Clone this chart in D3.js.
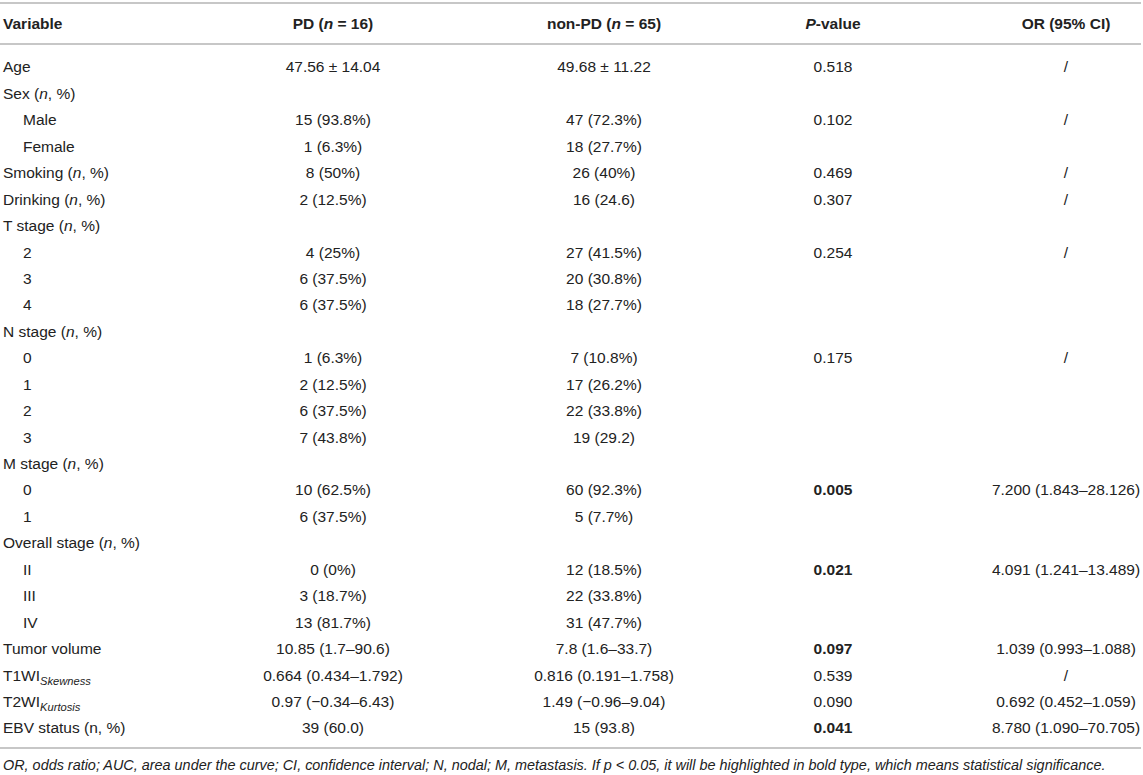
<!DOCTYPE html>
<html>
<head>
<meta charset="utf-8">
<script src="https://cdn.jsdelivr.net/npm/d3@7"></script>
<style>
  body { margin: 0; background: #fff; }
  svg text { font-family: "Liberation Sans", Arial, Helvetica, sans-serif; fill: #222; }
</style>
</head>
<body>
<svg id="chart" width="1143" height="775"></svg>
<script>
// columns of the table
var columns = ["pd", "nonpd", "p", "or"];
var headers = ["PD (*n* = 16)", "non-PD (*n* = 65)", "*P*-value", "OR (95% CI)"];

// row labels, "*x*" = italic, "_{x}" = italic subscript
var labels = ["Age", "Sex (*n*, %)", "Male", "Female", "Smoking (*n*, %)", "Drinking (*n*, %)",
  "T stage (*n*, %)", "2", "3", "4", "N stage (*n*, %)", "0", "1", "2", "3",
  "M stage (*n*, %)", "0", "1", "Overall stage (*n*, %)", "II", "III", "IV",
  "Tumor volume", "T1WI_{Skewness}", "T2WI_{Kurtosis}", "EBV status (n, %)"];
var indented = [0, 0, 1, 1, 0, 0, 0, 1, 1, 1, 0, 1, 1, 1, 1, 0, 1, 1, 0, 1, 1, 1, 0, 0, 0, 0];

var pdValues = ["47.56 ± 14.04", "", "15 (93.8%)", "1 (6.3%)", "8 (50%)", "2 (12.5%)",
  "", "4 (25%)", "6 (37.5%)", "6 (37.5%)", "", "1 (6.3%)", "2 (12.5%)", "6 (37.5%)", "7 (43.8%)",
  "", "10 (62.5%)", "6 (37.5%)", "", "0 (0%)", "3 (18.7%)", "13 (81.7%)",
  "10.85 (1.7–90.6)", "0.664 (0.434–1.792)", "0.97 (−0.34–6.43)", "39 (60.0)"];
var nonPdValues = ["49.68 ± 11.22", "", "47 (72.3%)", "18 (27.7%)", "26 (40%)", "16 (24.6)",
  "", "27 (41.5%)", "20 (30.8%)", "18 (27.7%)", "", "7 (10.8%)", "17 (26.2%)", "22 (33.8%)", "19 (29.2)",
  "", "60 (92.3%)", "5 (7.7%)", "", "12 (18.5%)", "22 (33.8%)", "31 (47.7%)",
  "7.8 (1.6–33.7)", "0.816 (0.191–1.758)", "1.49 (−0.96–9.04)", "15 (93.8)"];
var pValues = ["0.518", "", "0.102", "", "0.469", "0.307", "", "0.254", "", "", "", "0.175", "", "", "",
  "", "0.005", "", "", "0.021", "", "", "0.097", "0.539", "0.090", "0.041"];
var pBold = ["0.005", "0.021", "0.097", "0.041"];
var orValues = ["/", "", "/", "", "/", "/", "", "/", "", "", "", "/", "", "", "",
  "", "7.200 (1.843–28.126)", "", "", "4.091 (1.241–13.489)", "", "",
  "1.039 (0.993–1.088)", "/", "0.692 (0.452–1.059)", "8.780 (1.090–70.705)"];

var footnote = "OR, odds ratio; AUC, area under the curve; CI, confidence interval; N, nodal; M, metastasis. If p < 0.05, it will be highlighted in bold type, which means statistical significance.";

var W = 1143, fontSize = 15.5;
var svg = d3.select("#chart");

var x = d3.scaleOrdinal().domain(columns).range([333, 604, 833, 1066]);
var y = d3.scaleBand().domain(d3.range(labels.length)).range([53.8, 53.8 + labels.length * 26.44]);
var rowY = function(i) { return y(i) + y.bandwidth() / 2; };

// write a string with *italic* and _{sub} parts into a text element
function rich(sel, str) {
  var re = /(\*[^*]+\*|_\{[^}]+\})/g;
  str.split(re).forEach(function(part) {
    if (!part) return;
    if (part[0] === "*") {
      sel.append("tspan").attr("font-style", "italic").text(part.slice(1, -1));
    } else if (part[0] === "_") {
      sel.append("tspan").attr("font-style", "italic").attr("font-size", fontSize * 0.72)
        .attr("dy", 4).text(part.slice(2, -1));
    } else {
      sel.append("tspan").text(part);
    }
  });
}

// rules
[3, 44, 748].forEach(function(ly) {
  svg.append("line").attr("x1", 0).attr("x2", W - 2).attr("y1", ly).attr("y2", ly)
    .attr("stroke", "#b4b4b4").attr("stroke-width", 1.6);
});

// header
svg.append("text").attr("x", 3).attr("y", 23.5).attr("dy", "0.35em")
  .attr("font-size", fontSize).attr("font-weight", "bold").text("Variable");
headers.forEach(function(h, j) {
  var t = svg.append("text").attr("x", x(columns[j])).attr("y", 23.5).attr("dy", "0.35em")
    .attr("text-anchor", "middle").attr("font-size", fontSize).attr("font-weight", "bold");
  rich(t, h);
});

// body rows
var rows = svg.selectAll("g.row").data(labels).enter().append("g").attr("class", "row")
  .attr("transform", function(d, i) { return "translate(0," + rowY(i) + ")"; });

rows.append("text").attr("x", function(d, i) { return indented[i] ? 23 : 3; })
  .attr("dy", "0.35em").attr("font-size", fontSize)
  .each(function(d) { rich(d3.select(this), d); });

var cols = [pdValues, nonPdValues, pValues, orValues];
cols.forEach(function(vals, j) {
  rows.append("text").attr("x", x(columns[j])).attr("dy", "0.35em")
    .attr("text-anchor", "middle").attr("font-size", fontSize)
    .attr("font-weight", function(d, i) { return j === 2 && pBold.indexOf(vals[i]) > -1 ? "bold" : null; })
    .text(function(d, i) { return vals[i]; });
});

// footnote, fitted to the table width
var fn = svg.append("text").attr("x", 3).attr("y", 765).attr("dy", "0.35em")
  .attr("font-size", 14).attr("font-style", "italic").text(footnote);
var len = fn.node().getComputedTextLength();
fn.attr("font-size", 14 * 1103 / len);
</script>
</body>
</html>
